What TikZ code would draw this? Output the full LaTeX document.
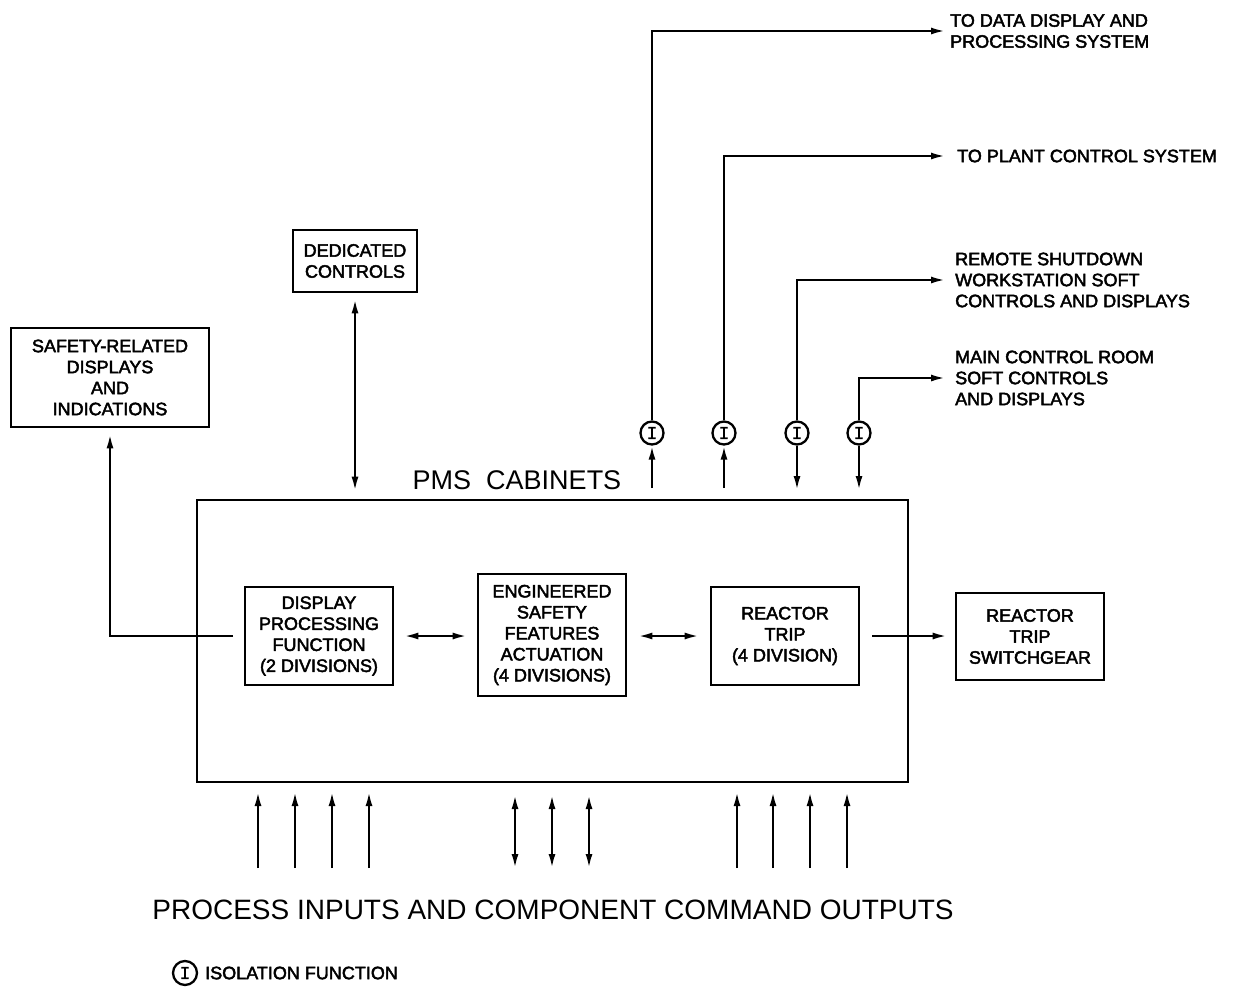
\documentclass[tikz,border=0pt]{standalone}
\usepackage{fontspec}
\setmainfont{Liberation Sans}
\newfontfamily\cadbold{Liberation Sans}[FakeBold=2.5]
\newfontfamily\isofont{Liberation Mono}[FakeBold=1]
\usetikzlibrary{arrows.meta}
\tikzset{
  box/.style={draw, line width=2.6pt, align=center, inner sep=0pt, font=\cadbold\fontsize{18}{21}\selectfont},
  lbl/.style={align=left, inner sep=0pt, anchor=west, font=\cadbold\fontsize{18}{21}\selectfont},
  conn/.style={line width=2.2pt},
  arr/.style={conn, -{Latex[length=14pt,width=7pt]}},
  darr/.style={conn, {Latex[length=14pt,width=7pt]}-{Latex[length=14pt,width=7pt]}},
  iso/.style={draw, circle, line width=2.3pt, minimum size=23pt, inner sep=0pt, font=\isofont\fontsize{18}{18}\selectfont},
}
\begin{document}
\begin{tikzpicture}[x=1pt,y=-1pt]
\useasboundingbox (0,0) rectangle (1234,988);
% boxes
\node[box, minimum width=198pt, minimum height=99pt] (srd) at (110,377.5) {SAFETY-RELATED\\DISPLAYS\\AND\\INDICATIONS};
\node[box, minimum width=124pt, minimum height=62pt] (ded) at (355,261) {DEDICATED\\CONTROLS};
\node[draw, line width=2.6pt, minimum width=711pt, minimum height=282pt, inner sep=0pt] (main) at (552.5,641) {};
\node[inner sep=0pt, font=\fontsize{27}{27}\selectfont] (pms) at (517,480) {PMS\ \ CABINETS};
\node[box, minimum width=148pt, minimum height=98pt] (dpf) at (319,636) {DISPLAY\\PROCESSING\\FUNCTION\\(2 DIVISIONS)};
\node[box, minimum width=148pt, minimum height=122pt] (esf) at (552,635) {ENGINEERED\\SAFETY\\FEATURES\\ACTUATION\\(4 DIVISIONS)};
\node[box, minimum width=148pt, minimum height=98pt] (rt) at (785,636) {REACTOR\\TRIP\\(4 DIVISION)};
\node[box, minimum width=148pt, minimum height=87pt] (swg) at (1030,636.5) {REACTOR\\TRIP\\SWITCHGEAR};
% isolation circles
\node[iso] (i1) at (652,433) {I};
\node[iso] (i2) at (724,433) {I};
\node[iso] (i3) at (797,433) {I};
\node[iso] (i4) at (859,433) {I};
% destination labels
\node[lbl] (dd) at (950,31) {TO DATA DISPLAY AND\\PROCESSING SYSTEM};
\node[lbl] (pcs) at (957,156) {TO PLANT CONTROL SYSTEM};
\node[lbl] (rs) at (955,280) {REMOTE SHUTDOWN\\WORKSTATION SOFT\\CONTROLS AND DISPLAYS};
\node[lbl] (mcr) at (955,378) {MAIN CONTROL ROOM\\SOFT CONTROLS\\AND DISPLAYS};
% connectors
\coordinate (dpfout) at (233,636);
\draw[arr, shorten >=6pt] (dpfout) -| (srd.south);
\draw[darr, shorten <=6pt, shorten >=8pt] (ded.south) -- (ded.south |- main.north);
\draw[darr, shorten <=10pt, shorten >=10pt] (dpf.east) -- (esf.west |- dpf.east);
\draw[darr, shorten <=11pt, shorten >=11pt] (esf.east |- rt.west) -- (rt.west);
\draw[arr, shorten <=12pt, shorten >=8pt] (rt.east) -- (swg.west |- rt.east);
% isolation paths
\coordinate (b1) at (652,488);
\coordinate (b2) at (724,488);
\coordinate (b3) at (797,490);
\coordinate (b4) at (859,490);
\draw[arr] (b1) -- (i1.south);
\draw[arr] (b2) -- (i2.south);
\draw[arr] (i3.south) -- (b3);
\draw[arr] (i4.south) -- (b4);
\draw[arr, shorten >=5pt] (i1.north) |- (dd.west);
\draw[arr, shorten >=12pt] (i2.north) |- (pcs.west);
\draw[arr, shorten >=10pt] (i3.north) |- (rs.west);
\draw[arr, shorten >=10pt] (i4.north) |- (mcr.west);
% bottom arrows
\foreach \x in {258,295,332,369,737,773,810,847}{
  \draw[arr, shorten >=10pt] (\x,868) -- (\x,782);
}
\foreach \x in {515,552,589}{
  \draw[darr, shorten >=13pt] (\x,868) -- (\x,782);
}
\node[inner sep=0pt, font=\fontsize{28}{28}\selectfont] (proc) at (553,910) {PROCESS INPUTS AND COMPONENT COMMAND OUTPUTS};
% legend
\node[iso, minimum size=24pt] (leg) at (185,973) {I};
\node[lbl] (legt) at (205,973) {ISOLATION FUNCTION};
\end{tikzpicture}
\end{document}
